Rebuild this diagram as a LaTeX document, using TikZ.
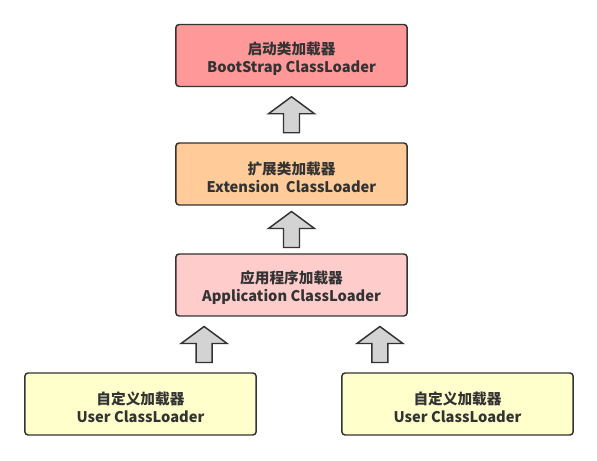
\documentclass[tikz,border=0pt]{standalone}
\usepackage{fontspec}
\setmainfont{Noto Sans CJK SC}
\usetikzlibrary{calc}
\definecolor{bootred}{HTML}{FF9999}
\definecolor{extorange}{HTML}{FFCC99}
\definecolor{apppink}{HTML}{FFCCCC}
\definecolor{useryellow}{HTML}{FFFFCC}
\definecolor{edgegray}{HTML}{333333}
\definecolor{arrowgray}{HTML}{D3D3D3}

\tikzset{
  loader/.style={draw=edgegray, line width=1.1pt, rounded corners=2.5pt,
    minimum width=173.5pt, minimum height=46.5pt, align=center,
    text=edgegray, font=\bfseries\fontsize{11}{13.5}\selectfont},
  pics/blockup/.style={code={
    \draw[draw=edgegray, fill=arrowgray, line width=1.1pt, line join=miter]
      (0,18) -- (23,1) -- (8,1) -- (8,-18) -- (-8,-18) -- (-8,1) -- (-23,1) -- cycle;
  }},
}
\newcommand{\topstrut}{\rule{0pt}{14pt}}

\begin{document}
\begin{tikzpicture}[x=0.75pt,y=0.75pt]

\useasboundingbox (0,0) rectangle (597,461);

% --- Caricatori (dall'alto verso il basso)
\node[loader, fill=bootred]    (boot)  at (291.5,405.5) {\topstrut{}启动类加载器\\BootStrap ClassLoader};
\node[loader, fill=extorange]  (ext)   at (291.5,287)   {\topstrut{}扩展类加载器\\Extension\ \ ClassLoader};
\node[loader, fill=apppink]    (app)   at (291.5,176)   {\topstrut{}应用程序加载器\\Application ClassLoader};
\node[loader, fill=useryellow] (user1) at (140.5,57)    {\topstrut{}自定义加载器\\User ClassLoader};
\node[loader, fill=useryellow] (user2) at (457.5,57)    {\topstrut{}自定义加载器\\User ClassLoader};

% --- Frecce di delega
\pic (up1) at ($(ext.north)!0.5!(boot.south)$) {blockup};
\pic (up2) at ($(app.north)!0.5!(ext.south)$) {blockup};
\pic (up3) at ($(app.south west)!0.5!(app.south west |- user1.north) + (29,0)$) {blockup};
\pic (up4) at ($(app.south east)!0.5!(app.south east |- user2.north) + (-28,0)$) {blockup};

\end{tikzpicture}
\end{document}
